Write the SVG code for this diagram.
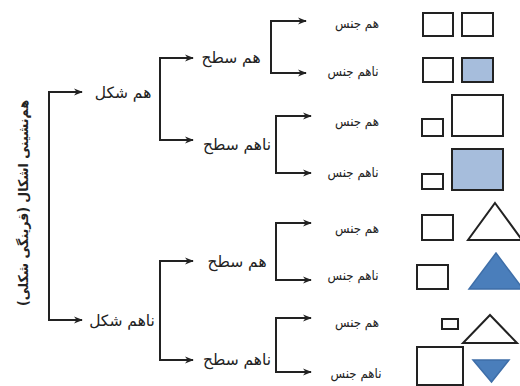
<svg xmlns="http://www.w3.org/2000/svg" width="520" height="386" viewBox="0 0 520 386">
<defs>
<style>
.t{font-family:"DejaVu Sans",sans-serif;font-size:13.5px;fill:#222;text-anchor:middle}
.m{font-family:"DejaVu Sans",sans-serif;font-size:15.5px;fill:#222;text-anchor:middle}
.v{font-family:"DejaVu Sans",sans-serif;font-size:13.5px;font-weight:bold;fill:#222;text-anchor:middle}
.c{fill:none;stroke:#222;stroke-width:2;marker-start:url(#ah);marker-end:url(#ah)}
.r{fill:#fff;stroke:#222;stroke-width:2}
.lb{fill:#a6bddc;stroke:#222;stroke-width:2}
.db{fill:#4a7ebb;stroke:#3e6ea8;stroke-width:1.5}
.tw{fill:#fff;stroke:#222;stroke-width:2}
</style>
<marker id="ah" viewBox="0 0 10 10" markerUnits="userSpaceOnUse" markerWidth="9" markerHeight="9" refX="9" refY="5" orient="auto-start-reverse">
<path d="M0,1 L10,5 L0,9 L3,5 z" fill="#222"/>
</marker>
</defs>
<rect width="520" height="386" fill="#fff"/>
<g id="connectors">
<path class="c" d="M82,92 H49 V320 H82"/>
<path class="c" d="M193,58 H160 V140 H193"/>
<path class="c" d="M193,261 H160 V360 H193"/>
<path class="c" d="M306,21 H271 V73 H306"/>
<path class="c" d="M311,116 H276 V173 H311"/>
<path class="c" d="M311,223 H276 V280 H311"/>
<path class="c" d="M311,318 H276 V372 H311"/>
</g>
<g id="root"><text class="v" transform="translate(28,203) rotate(-90) scale(0.93,1)">هم‌نشینی اشکال (قرینگی شکلی)</text></g>
<g id="n-ham-shekl"><text class="m" x="123" y="98">هم شکل</text></g>
<g id="n-naham-shekl"><text class="m" x="122" y="326">ناهم شکل</text></g>
<g id="n-ham-sath-1"><text class="m" x="231" y="63">هم سطح</text></g>
<g id="n-naham-sath-1"><text class="m" x="237" y="150">ناهم سطح</text></g>
<g id="n-ham-sath-2"><text class="m" x="237" y="267">هم سطح</text></g>
<g id="n-naham-sath-2"><text class="m" x="237" y="365">ناهم سطح</text></g>
<g id="n-l1"><text class="t" transform="translate(357,28) scale(0.88,1)">هم جنس</text></g>
<g id="n-l2"><text class="t" transform="translate(353,76) scale(0.88,1)">ناهم جنس</text></g>
<g id="n-l3"><text class="t" transform="translate(357,126) scale(0.88,1)">هم جنس</text></g>
<g id="n-l4"><text class="t" transform="translate(353,177) scale(0.88,1)">ناهم جنس</text></g>
<g id="n-l5"><text class="t" transform="translate(357,233) scale(0.88,1)">هم جنس</text></g>
<g id="n-l6"><text class="t" transform="translate(353,280) scale(0.88,1)">ناهم جنس</text></g>
<g id="n-l7"><text class="t" transform="translate(357,327) scale(0.88,1)">هم جنس</text></g>
<g id="n-l8"><text class="t" transform="translate(356,378) scale(0.88,1)">ناهم جنس</text></g>
<g id="s1"><rect class="r" x="423" y="13" width="30" height="23"/><rect class="r" x="462" y="13" width="31" height="23"/></g>
<g id="s2"><rect class="r" x="423" y="58" width="30" height="24"/><rect class="lb" x="462" y="58" width="31" height="24"/></g>
<g id="s3"><rect class="r" x="422" y="119" width="21" height="17"/><rect class="r" x="452" y="95" width="51" height="41"/></g>
<g id="s4"><rect class="r" x="422" y="174" width="21" height="15"/><rect class="lb" x="452" y="149" width="51" height="41"/></g>
<g id="s5"><rect class="r" x="422" y="215" width="31" height="25"/><polygon class="tw" points="495,203 522,240 468,240"/></g>
<g id="s6"><rect class="r" x="417" y="265" width="31" height="24"/><polygon class="db" points="496,253 523,289 469,289"/></g>
<g id="s7"><rect class="r" x="442" y="319" width="16" height="10"/><polygon class="tw" points="490,315 517,343 463,343"/></g>
<g id="s8"><rect class="r" x="417" y="347" width="46" height="38"/><polygon class="db" points="473,360 509,360 491.5,382"/></g>
</svg>
